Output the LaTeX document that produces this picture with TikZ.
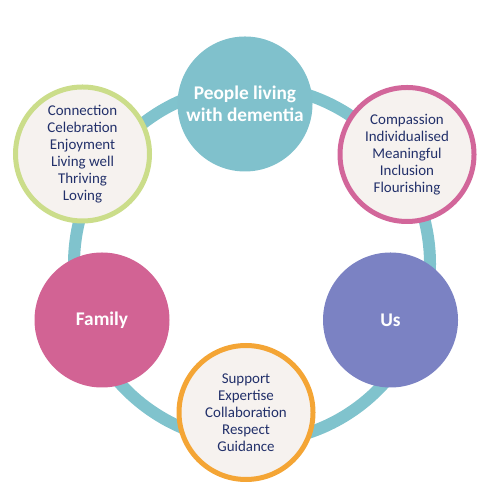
\documentclass[tikz,border=0pt]{standalone}
\usepackage{fontspec}
\setmainfont{Carlito}
\usetikzlibrary{positioning}
\definecolor{loopteal}{RGB}{128,195,205}
\definecolor{hubteal}{RGB}{128,193,204}
\definecolor{valuefill}{RGB}{246,242,239}
\definecolor{valuetext}{RGB}{34,48,106}
\definecolor{greenring}{RGB}{203,221,138}
\definecolor{pinkring}{RGB}{210,102,154}
\definecolor{orangering}{RGB}{244,165,53}
\definecolor{familypink}{RGB}{210,99,148}
\definecolor{uspurple}{RGB}{123,130,195}
\tikzset{
  hub/.style={circle, minimum size=2.7cm, inner sep=0pt, align=center,
    text=white, font=\fontsize{11}{12.2}\selectfont\bfseries},
  values/.style={circle, minimum size=2.68cm, inner sep=0pt, align=center,
    fill=valuefill, line width=1mm, text=valuetext, font=\fontsize{8.5}{9.6}\selectfont},
  loop/.style={circle, draw=loopteal, line width=2.4mm, minimum size=7.12cm, inner sep=0pt}
}
\begin{document}
\begin{tikzpicture}
  \useasboundingbox (0,0) rectangle (10,10);
  \node[loop] (cycle) at (5.04,4.72) {};

  \node[hub, fill=hubteal] (people) at (4.90,7.92) {People living\\with dementia};
  \node[values, draw=pinkring] (compassion) at (8.14,6.91) {Compassion\\Individualised\\Meaningful\\Inclusion\\Flourishing};
  \node[hub, fill=uspurple] (us) at (7.81,3.60) {Us};
  \node[values, draw=orangering] (support) at (4.92,1.75) {Support\\Expertise\\Collaboration\\Respect\\Guidance};
  \node[hub, fill=familypink] (family) at (2.04,3.60) {Family};
  \node[values, draw=greenring] (connection) at (1.65,6.92) {Connection\\Celebration\\Enjoyment\\Living well\\Thriving\\Loving};
\end{tikzpicture}
\end{document}
